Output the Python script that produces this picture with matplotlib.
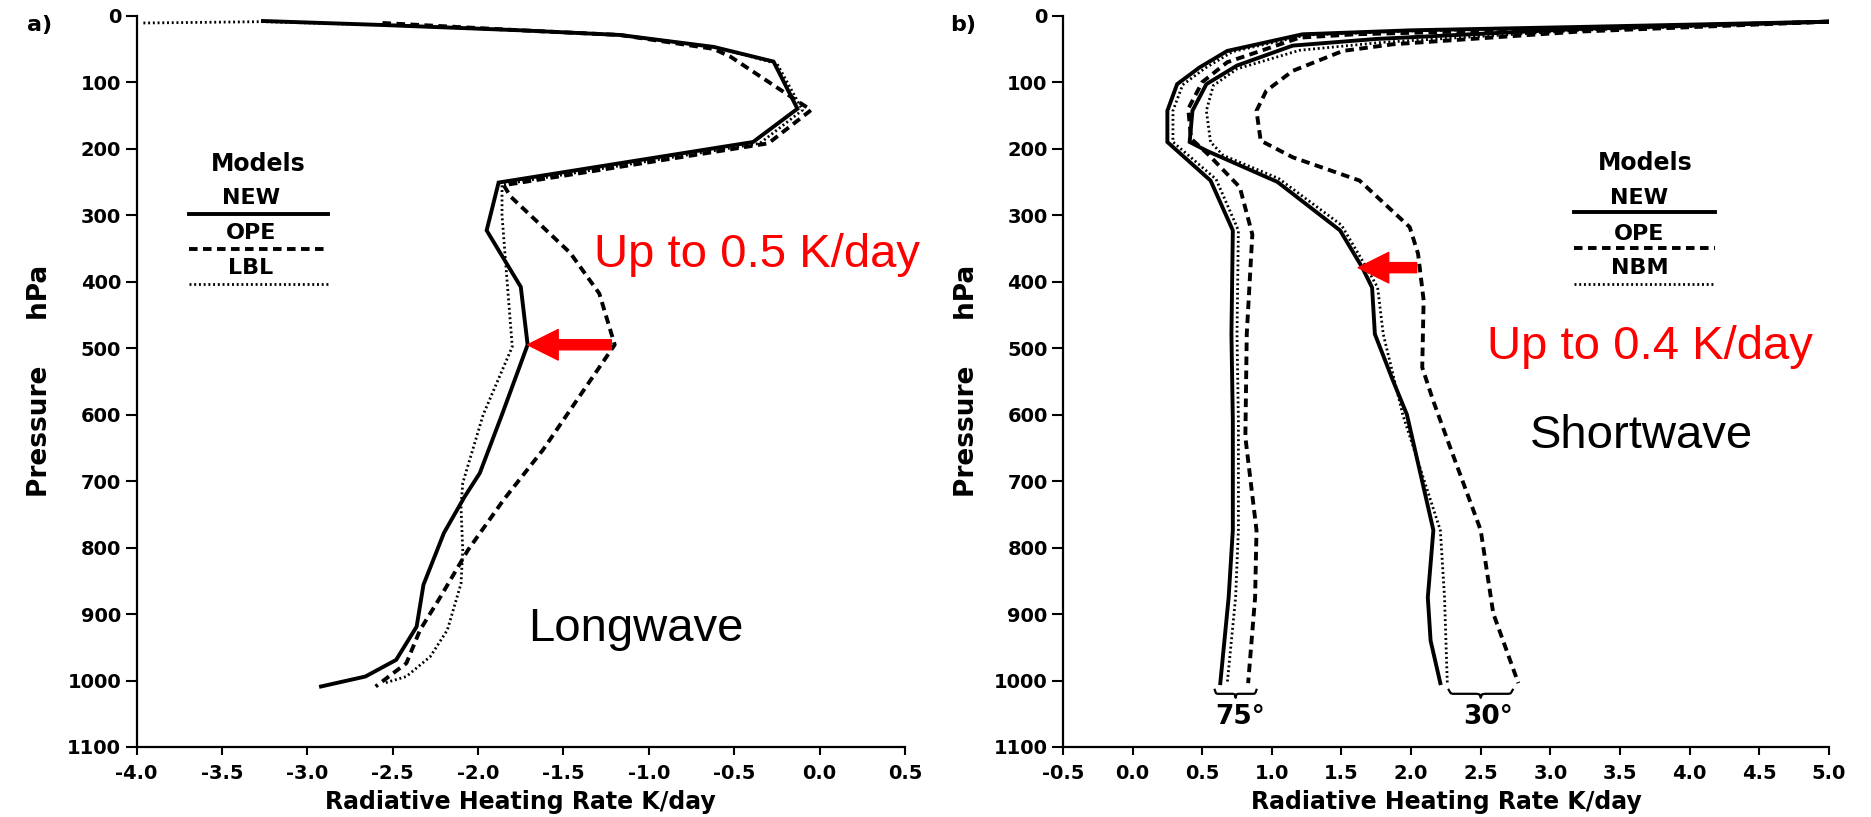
import matplotlib.pyplot as plt
import numpy as np

plt.rcParams['font.family'] = ['DejaVu Sans']
plt.rcParams['font.weight'] = 'bold'
plt.rcParams['axes.labelweight'] = 'bold'
plt.rcParams['axes.unicode_minus'] = False

# ---- a) longwave, heating rate (K/day) vs pressure (hPa)
lw_new_x = [-3.26, -2.56, -1.75, -1.17, -0.62, -0.27, -0.13, -0.39, -1.88, -1.95, -1.75, -1.71,
            -1.86, -1.99, -2.08, -2.20, -2.32, -2.36, -2.48, -2.66, -2.92]
lw_new_p = [8, 14, 22, 29, 47, 69, 140, 190, 251, 323, 408, 495,
            600, 688, 724, 778, 856, 919, 969, 994, 1009]

lw_ope_x = [-2.56, -1.75, -1.17, -0.62, -0.52, -0.05, -0.30, -1.85, -1.81, -1.46, -1.29, -1.20,
            -1.62, -1.85, -2.06, -2.22, -2.34, -2.42, -2.60]
lw_ope_p = [11, 22, 29, 50, 62, 142, 192, 255, 272, 357, 418, 495,
            653, 728, 804, 874, 924, 974, 1009]

lw_lbl_x = [-3.96, -3.26, -2.56, -1.75, -1.17, -0.62, -0.25, -0.10, -0.35, -1.86, -1.86, -1.83,
            -1.80, -1.97, -2.09, -2.10, -2.09, -2.10, -2.18, -2.28, -2.42, -2.55]
lw_lbl_p = [11, 9, 14, 22, 29, 47, 72, 142, 192, 254, 300, 400,
            498, 600, 703, 740, 804, 854, 924, 964, 994, 1004]

# ---- b) shortwave, two latitudes (75 and 30 deg)
sw75_new_x = [5.0, 3.2, 2.0, 1.22, 0.68, 0.48, 0.32, 0.25, 0.25, 0.56, 0.72, 0.71, 0.72, 0.72, 0.69, 0.63]
sw75_new_p = [9, 17, 22, 28, 53, 78, 103, 143, 190, 248, 323, 479, 609, 774, 875, 1004]
sw75_nbm_x = [5.0, 3.2, 2.0, 1.25, 0.72, 0.52, 0.36, 0.29, 0.29, 0.60, 0.76, 0.75, 0.76, 0.76, 0.74, 0.68]
sw75_nbm_p = [9, 18, 23, 29, 54, 79, 104, 143, 190, 246, 323, 479, 609, 774, 875, 1004]
sw75_ope_x = [5.0, 3.2, 1.6, 1.2, 0.68, 0.50, 0.40, 0.42, 0.55, 0.77, 0.86, 0.82, 0.81, 0.89, 0.88, 0.83]
sw75_ope_p = [9, 19, 28, 33, 70, 100, 140, 185, 210, 258, 329, 479, 634, 774, 875, 1004]

sw30_new_x = [5.0, 3.2, 1.75, 1.15, 0.75, 0.53, 0.43, 0.41, 0.53, 1.04, 1.49, 1.65, 1.72, 1.74,
              1.87, 1.97, 2.16, 2.12, 2.14, 2.21]
sw30_new_p = [9, 20, 35, 45, 75, 103, 143, 190, 203, 250, 323, 379, 409, 479,
              549, 600, 774, 875, 940, 1004]
sw30_nbm_x = [5.0, 3.2, 1.8, 1.2, 0.75, 0.58, 0.53, 0.56, 0.65, 1.05, 1.50, 1.68, 1.76, 1.80,
              1.94, 2.21, 2.24, 2.26]
sw30_nbm_p = [9, 22, 40, 52, 80, 105, 143, 190, 210, 245, 315, 379, 409, 479,
              600, 774, 875, 1004]
sw30_ope_x = [5.0, 3.2, 1.87, 1.51, 1.15, 0.96, 0.89, 0.92, 1.15, 1.63, 1.99, 2.05, 2.09, 2.08,
              2.16, 2.28, 2.50, 2.59, 2.77]
sw30_ope_p = [9, 24, 43, 53, 83, 113, 143, 188, 213, 248, 318, 358, 428, 529,
              580, 649, 774, 899, 1004]

lw_ticks = np.arange(-4.0, 0.51, 0.5)
sw_ticks = np.arange(-0.5, 5.01, 0.5)
p_ticks = np.arange(0, 1101, 100)

lw_models = ['NEW', 'OPE', 'LBL']
sw_models = ['NEW', 'OPE', 'NBM']

sty = {
    'solid': dict(color='black', lw=2.8, ls='-', solid_joinstyle='miter'),
    'dash': dict(color='black', lw=2.8, ls=(0, (2.2, 1.4))),
    'dot': dict(color='black', lw=2.0, ls=(0, (0.7, 1.0))),
}
key_styles = ['solid', 'dash', 'dot']
red = dict(color='red', fontsize=34, family='Liberation Sans', fontweight='normal')
plain = dict(fontsize=34, family='Liberation Sans', fontweight='normal')


def style_axis(ax, xlim, xticks):
    ax.set_xlim(*xlim)
    ax.set_ylim(1100, 0)
    ax.set_xticks(xticks)
    ax.set_xticklabels(['%.1f' % t for t in xticks], fontweight='bold', fontsize=14)
    ax.set_yticks(p_ticks)
    ax.set_yticklabels([str(t) for t in p_ticks], fontweight='bold', fontsize=14)
    ax.spines['top'].set_visible(False)
    ax.spines['right'].set_visible(False)
    for s in ('left', 'bottom'):
        ax.spines[s].set_linewidth(1.6)
    ax.tick_params(axis='x', direction='out', length=6, width=1.5, pad=6)
    ax.tick_params(axis='y', direction='out', length=8, width=1.5, pad=3)
    ax.set_xlabel('Radiative Heating Rate K/day', fontweight='bold', fontsize=17, labelpad=5)
    ax.set_ylabel('Pressure     hPa', fontweight='bold', fontsize=19, labelpad=10)


def model_key(ax, names, xc, x0, x1, y_title, y_names, y_lines):
    ax.text(xc, y_title, 'Models', ha='center', va='center', fontsize=17, fontweight='bold')
    for name, yn, yl, k in zip(names, y_names, y_lines, key_styles):
        ax.text(xc - 0.04, yn, name, ha='center', va='center', fontsize=16, fontweight='bold')
        ax.plot([x0, x1], [yl, yl], **sty[k])


def brace(ax, x0, x1, y, h=6):
    xm = (x0 + x1) / 2
    e = (x1 - x0) * 0.06
    xs = [x0, x0 + e * 0.5, x0 + e, xm - e, xm - e * 0.3, xm, xm + e * 0.3, xm + e, x1 - e, x1 - e * 0.5, x1]
    ys = [y - h, y - 1, y, y, y + 1, y + h, y + 1, y, y, y - 1, y - h]
    ax.plot(xs, ys, color='black', lw=1.6)


fig = plt.figure(figsize=(18.71, 8.17), dpi=100)
ax1 = fig.add_axes([0.0730, 0.0857, 0.4107, 0.8951])
ax2 = fig.add_axes([0.5681, 0.0857, 0.4094, 0.8951])

# panel a
ax1.plot(lw_lbl_x, lw_lbl_p, **sty['dot'])
ax1.plot(lw_ope_x, lw_ope_p, **sty['dash'])
ax1.plot(lw_new_x, lw_new_p, **sty['solid'])
style_axis(ax1, (-4.0, 0.5), lw_ticks)
model_key(ax1, lw_models, -3.29, -3.695, -2.88, 223, [274, 327, 379], [298, 351, 404])
ax1.text(-1.32, 378, 'Up to 0.5 K/day', ha='left', va='baseline', **red)
ax1.text(-1.707, 940, 'Longwave', ha='left', va='baseline', **plain)
ax1.annotate('', xy=(-1.71, 495), xytext=(-1.22, 495),
             arrowprops=dict(arrowstyle='simple,head_length=1.0,head_width=1.0,tail_width=0.33',
                             color='red', mutation_scale=22, shrinkA=0, shrinkB=0))
fig.text(40 / 1871, 1 - 25 / 817, 'a)', ha='center', va='center', fontsize=16, fontweight='bold')

# panel b
for xs, ps, k in [(sw75_nbm_x, sw75_nbm_p, 'dot'), (sw75_ope_x, sw75_ope_p, 'dash'),
                  (sw75_new_x, sw75_new_p, 'solid'), (sw30_nbm_x, sw30_nbm_p, 'dot'),
                  (sw30_ope_x, sw30_ope_p, 'dash'), (sw30_new_x, sw30_new_p, 'solid')]:
    ax2.plot(xs, ps, **sty[k])
style_axis(ax2, (-0.5, 5.0), sw_ticks)
model_key(ax2, sw_models, 3.68, 3.17, 4.18, 222, [274, 328, 380], [296, 350, 403])
ax2.text(2.546, 516, 'Up to 0.4 K/day', ha='left', va='baseline', **red)
ax2.text(2.855, 651, 'Shortwave', ha='left', va='baseline', **plain)
ax2.annotate('', xy=(1.62, 379), xytext=(2.04, 379),
             arrowprops=dict(arrowstyle='simple,head_length=1.0,head_width=1.0,tail_width=0.33',
                             color='red', mutation_scale=22, shrinkA=0, shrinkB=0))
brace(ax2, 0.59, 0.89, 1020)
brace(ax2, 2.27, 2.73, 1020)
ax2.text(0.77, 1055, '75°', ha='center', va='center', fontsize=19, fontweight='bold')
ax2.text(2.55, 1055, '30°', ha='center', va='center', fontsize=19, fontweight='bold')
fig.text(963 / 1871, 1 - 25 / 817, 'b)', ha='center', va='center', fontsize=16, fontweight='bold')

fig.savefig('out.png', dpi=100)
